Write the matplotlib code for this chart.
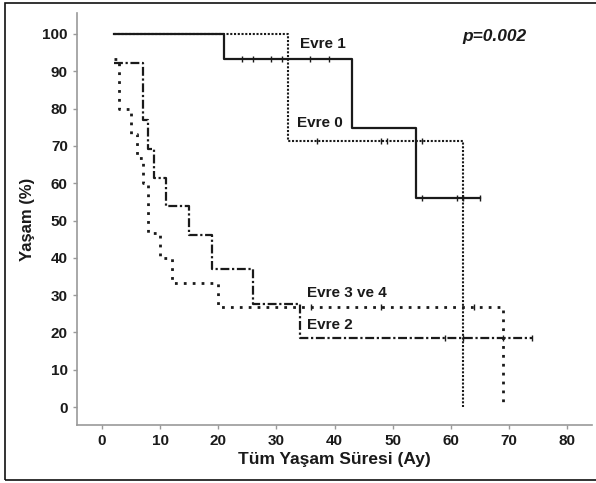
import matplotlib.pyplot as plt
from matplotlib.patches import Rectangle

plt.rcParams['font.family'] = ['Liberation Sans', 'DejaVu Sans']

# Kaplan-Meier steps per stage (months, survival %)
evre1_t = [2, 21, 43, 54, 65]
evre1_s = [100, 93.3, 74.7, 56.0, 56.0]
evre1_cens = [24, 26, 29, 31, 35.7, 39, 55, 61, 62, 65]

evre0_t = [2, 32, 62]
evre0_s = [100, 71.4, 0]
evre0_cens = [37, 48, 49, 55]

evre2_t = [2, 7, 8, 9, 11, 15, 19, 26, 34, 74]
evre2_s = [92.3, 76.9, 69.2, 61.5, 53.8, 46.2, 36.9, 27.7, 18.5, 18.5]
evre2_cens = [59, 62, 69, 74]

evre34_t = [2, 3, 5, 6, 7, 8, 10, 12, 20, 69]
evre34_s = [93.3, 80, 73.3, 66.7, 60, 46.7, 40, 33.3, 26.7, 0]
evre34_cens = [36, 48, 64]

x_ticks = [0, 10, 20, 30, 40, 50, 60, 70, 80]
y_ticks = [0, 10, 20, 30, 40, 50, 60, 70, 80, 90, 100]

fig = plt.figure(figsize=(5.96, 4.83), dpi=100)
ax = fig.add_axes([0.129, 0.120, 0.864, 0.853])

col = '#1a1a1a'


def value_at(ts, ss, c):
    v = ss[0]
    for t, s in zip(ts, ss):
        if t <= c:
            v = s
    return v


def draw(ts, ss, cens, **kw):
    ax.step(ts, ss, where='post', color=col, **kw)
    ys = [value_at(ts, ss, c) for c in cens]
    ax.plot(cens, ys, linestyle='none', marker='|', markersize=5,
            markeredgewidth=1, color=col)


draw(evre0_t, evre0_s, evre0_cens, linestyle=(0, (1, 0.8)), linewidth=1.5)
draw(evre34_t, evre34_s, evre34_cens, linestyle=(0, (1, 2.2)), linewidth=2)
draw(evre2_t, evre2_s, evre2_cens, linestyle=(0, (4, 1.2, 1, 1.2)), linewidth=1.6)
draw(evre1_t, evre1_s, evre1_cens, linestyle='-', linewidth=1.6)

lab = dict(fontsize=11, fontweight='bold', color=col, va='center')
ax.text(34, 97.3, 'Evre 1', **lab)
ax.text(33.5, 76.1, 'Evre 0', **lab)
ax.text(35.2, 30.6, 'Evre 3 ve 4', **lab)
ax.text(35.2, 22.0, 'Evre 2', **lab)
ax.text(61.9, 99.3, 'p=0.002', fontsize=12.5, fontweight='bold',
        fontstyle='italic', color=col, va='center')

ax.set_xlim(-4.3, 84.2)
ax.set_ylim(-4.8, 105.6)
ax.set_xticks(x_ticks)
ax.set_yticks(y_ticks)
ax.tick_params(labelsize=11, colors='#999999', labelcolor=col,
               length=3, width=1)
for t in ax.get_xticklabels() + ax.get_yticklabels():
    t.set_fontweight('bold')
for s in ['top', 'right']:
    ax.spines[s].set_visible(False)
for s in ['left', 'bottom']:
    ax.spines[s].set_color('#999999')
    ax.spines[s].set_linewidth(1.2)

ax.set_xlabel('Tüm Yaşam Süresi (Ay)', fontsize=12.5, fontweight='bold', color=col, labelpad=3)
ax.set_ylabel('Yaşam (%)', fontsize=12, fontweight='bold', color=col, labelpad=5)

fig.patches.append(Rectangle((5 / 596, 3 / 483), 1.2, 477 / 483,
                             transform=fig.transFigure, fill=False,
                             edgecolor='#111111', linewidth=1.2))

fig.savefig('out.png', dpi=100)
